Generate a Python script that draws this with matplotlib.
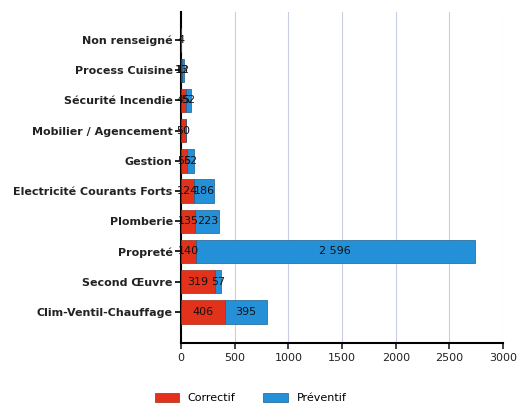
import matplotlib.pyplot as plt
import numpy as np

# categories from bottom to top
categories = ["Clim-Ventil-Chauffage", "Second Œuvre", "Propreté", "Plomberie",
              "Electricité Courants Forts", "Gestion", "Mobilier / Agencement",
              "Sécurité Incendie", "Process Cuisine", "Non renseigné"]
correctif = [406, 319, 140, 135, 124, 55, 50, 45, 13, 4]
preventif = [395, 57, 2596, 223, 186, 62, 0, 52, 12, 0]
xticks = [0, 500, 1000, 1500, 2000, 2500, 3000]

red = "#e2321c"
blue = "#2490d8"


def fmt(v):
    return "{:,}".format(v).replace(",", " ")


fig = plt.figure(figsize=(5.22, 4.09), dpi=100)
ax = fig.add_axes([0.3467, 0.1614, 0.617, 0.8093])

y = np.arange(len(categories))
ax.barh(y, correctif, height=0.77, color=red, edgecolor="#9a2a1a", linewidth=0.5,
        label="Correctif", zorder=3)
ax.barh(y, preventif, left=correctif, height=0.77, color=blue, edgecolor="#1a5f90",
        linewidth=0.5, label="Préventif", zorder=3)

for i in range(len(categories)):
    ax.text(correctif[i] / 2, y[i], fmt(correctif[i]), ha="center", va="center",
            fontsize=8, color="#111111", zorder=4)
    if preventif[i] > 0:
        ax.text(correctif[i] + preventif[i] / 2, y[i], fmt(preventif[i]), ha="center",
                va="center", fontsize=8, color="#111111", zorder=4)

ax.set_xlim(0, 3000)
ax.set_ylim(-1.03, 9.93)
ax.set_xticks(xticks)
ax.set_yticks(y)
ax.set_yticklabels(categories, fontsize=8, fontweight="bold", color="#222222")
ax.tick_params(axis="x", labelsize=8, length=4, width=1.2, colors="#222222")
ax.tick_params(axis="y", length=4, width=1.2, pad=2)
ax.grid(axis="x", color="#c9cde3", linewidth=0.8, zorder=0)
for s in ["top", "right"]:
    ax.spines[s].set_visible(False)
for s in ["left", "bottom"]:
    ax.spines[s].set_linewidth(1.5)

fig.legend(loc="center", bbox_to_anchor=(0.48, 0.027), ncol=2, frameon=False,
           fontsize=8, handlelength=2.2, handleheight=0.9, columnspacing=2.5)

fig.savefig("out.png", dpi=100)
